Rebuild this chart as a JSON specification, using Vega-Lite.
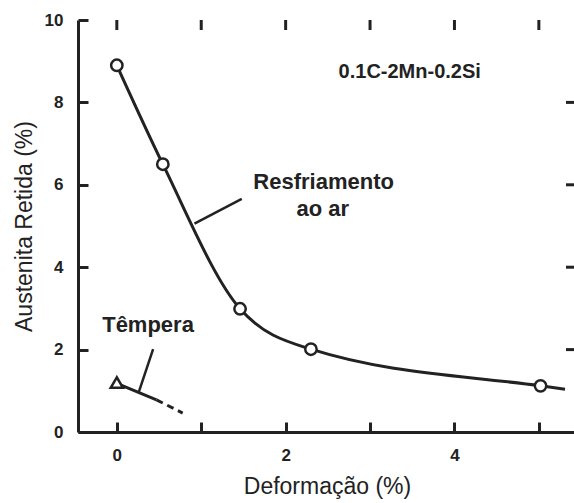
{
  "$schema": "https://vega.github.io/schema/vega-lite/v6.json",
  "width": 498,
  "height": 412,
  "autosize": "none",
  "padding": {"left": 78, "top": 20, "right": 0, "bottom": 71},
  "background": "white",
  "config": {
    "view": {"stroke": null},
    "font": "Liberation Sans",
    "axis": {
      "grid": false,
      "domainColor": "#222",
      "domainWidth": 3,
      "tickColor": "#222",
      "tickWidth": 3,
      "tickSize": -10,
      "labelFont": "Liberation Sans",
      "labelFontWeight": "bold",
      "labelFontSize": 17,
      "labelColor": "#222",
      "labelPadding": 25,
      "titleFont": "Liberation Sans",
      "titleFontWeight": "normal",
      "titleFontSize": 23,
      "titleColor": "#222"
    }
  },
  "datasets": {
    "curve": [
      {"d": 0.0, "a": 8.9},
      {"d": 0.545, "a": 6.5},
      {"d": 1.46, "a": 2.99},
      {"d": 2.3, "a": 2.01},
      {"d": 5.02, "a": 1.12},
      {"d": 5.31, "a": 1.04}
    ],
    "points": [
      {"d": 0.0, "a": 8.9},
      {"d": 0.545, "a": 6.5},
      {"d": 1.46, "a": 2.99},
      {"d": 2.3, "a": 2.01},
      {"d": 5.02, "a": 1.12}
    ],
    "quenchSolid": [
      {"d": 0.0, "a": 1.18},
      {"d": 0.47, "a": 0.78}
    ],
    "quenchDash": [
      {"d": 0.47, "a": 0.78},
      {"d": 0.78, "a": 0.46}
    ],
    "quenchPoint": [
      {"d": 0.0, "a": 1.2}
    ],
    "leaders": [
      {"d": 1.48, "a": 5.66, "d2": 0.92, "a2": 5.06},
      {"d": 0.43, "a": 2.01, "d2": 0.26, "a2": 0.97}
    ],
    "labels": [
      {"d": 3.47, "a": 8.74, "text": "0.1C-2Mn-0.2Si", "size": 20},
      {"d": 2.45, "a": 6.07, "text": "Resfriamento", "size": 22},
      {"d": 2.44, "a": 5.41, "text": "ao ar", "size": 22},
      {"d": 0.37, "a": 2.6, "text": "Têmpera", "size": 22}
    ],
    "topTicks": [
      {"d": 0}, {"d": 1}, {"d": 2}, {"d": 3}, {"d": 4}, {"d": 5}
    ],
    "rightTicks": [
      {"a": 2}, {"a": 4}, {"a": 6}, {"a": 8}
    ]
  },
  "layer": [
    {
      "data": {"name": "curve"},
      "mark": {"type": "line", "interpolate": "monotone", "color": "#222", "strokeWidth": 3},
      "encoding": {
        "x": {
          "field": "d", "type": "quantitative",
          "scale": {"domain": [-0.46, 5.44], "nice": false, "zero": false},
          "axis": {
            "orient": "bottom",
            "values": [0, 1, 2, 3, 4, 5],
            "format": "d",
            "labelExpr": "datum.value % 2 == 0 ? datum.label : ''",
            "title": "Deformação (%)",
            "titlePadding": 12
          }
        },
        "y": {
          "field": "a", "type": "quantitative",
          "scale": {"domain": [0, 10], "nice": false},
          "axis": {
            "orient": "left",
            "values": [0, 2, 4, 6, 8, 10],
            "format": "d",
            "title": "Austenita Retida (%)",
            "titlePadding": 8
          }
        }
      }
    },
    {
      "mark": {"type": "rule", "color": "#222", "strokeWidth": 3},
      "encoding": {
        "y": {"datum": 10, "type": "quantitative"}
      }
    },
    {
      "data": {"name": "topTicks"},
      "mark": {"type": "tick", "orient": "vertical", "color": "#222", "size": 10, "thickness": 3, "yOffset": 5, "opacity": 1},
      "encoding": {
        "x": {"field": "d", "type": "quantitative"},
        "y": {"datum": 10, "type": "quantitative"}
      }
    },
    {
      "data": {"name": "rightTicks"},
      "mark": {"type": "tick", "orient": "horizontal", "color": "#222", "size": 10, "thickness": 3, "xOffset": -5, "opacity": 1},
      "encoding": {
        "x": {"datum": 5.44, "type": "quantitative"},
        "y": {"field": "a", "type": "quantitative"}
      }
    },
    {
      "data": {"name": "quenchSolid"},
      "mark": {"type": "line", "color": "#222", "strokeWidth": 3},
      "encoding": {
        "x": {"field": "d", "type": "quantitative"},
        "y": {"field": "a", "type": "quantitative"}
      }
    },
    {
      "data": {"name": "quenchDash"},
      "mark": {"type": "line", "color": "#222", "strokeWidth": 3, "strokeDash": [7, 5]},
      "encoding": {
        "x": {"field": "d", "type": "quantitative"},
        "y": {"field": "a", "type": "quantitative"}
      }
    },
    {
      "data": {"name": "leaders"},
      "mark": {"type": "rule", "color": "#222", "strokeWidth": 2.5},
      "encoding": {
        "x": {"field": "d", "type": "quantitative"},
        "y": {"field": "a", "type": "quantitative"},
        "x2": {"field": "d2"},
        "y2": {"field": "a2"}
      }
    },
    {
      "data": {"name": "points"},
      "mark": {"type": "point", "shape": "circle", "filled": false, "fill": "white", "fillOpacity": 1, "stroke": "#222", "strokeWidth": 2.5, "size": 130, "opacity": 1},
      "encoding": {
        "x": {"field": "d", "type": "quantitative"},
        "y": {"field": "a", "type": "quantitative"}
      }
    },
    {
      "data": {"name": "quenchPoint"},
      "mark": {"type": "point", "shape": "triangle-up", "filled": false, "fill": "white", "fillOpacity": 1, "stroke": "#222", "strokeWidth": 2.5, "size": 150, "opacity": 1},
      "encoding": {
        "x": {"field": "d", "type": "quantitative"},
        "y": {"field": "a", "type": "quantitative"}
      }
    },
    {
      "data": {"name": "labels"},
      "mark": {"type": "text", "font": "Liberation Sans", "fontWeight": "bold", "color": "#222", "align": "center", "baseline": "middle"},
      "encoding": {
        "x": {"field": "d", "type": "quantitative"},
        "y": {"field": "a", "type": "quantitative"},
        "text": {"field": "text"},
        "size": {"field": "size", "type": "quantitative", "scale": null}
      }
    }
  ]
}
